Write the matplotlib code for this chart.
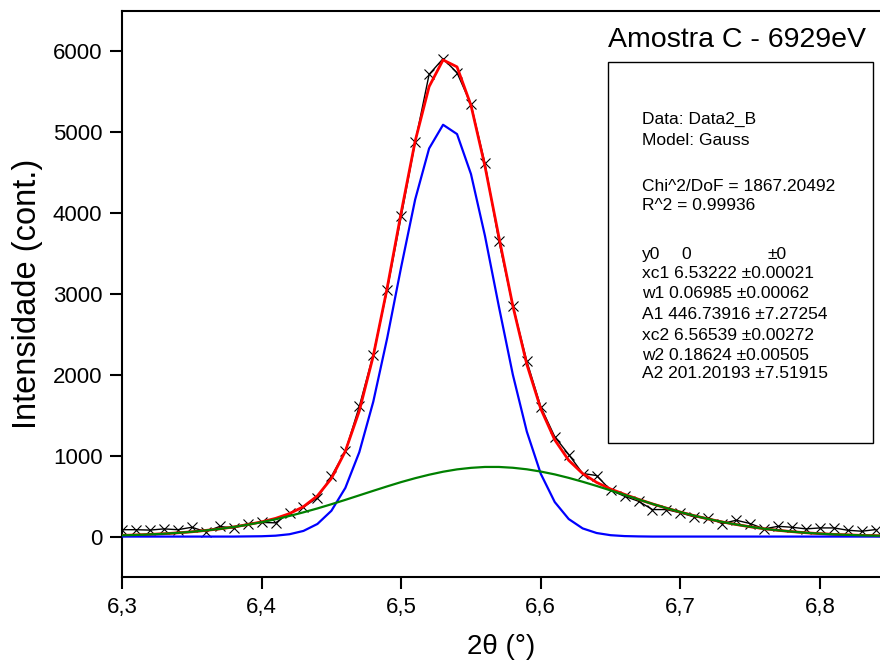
import numpy as np
import matplotlib
matplotlib.use('Agg')
import matplotlib.pyplot as plt
from matplotlib.patches import Rectangle
from matplotlib.ticker import FuncFormatter

plt.rcParams['font.family'] = ['Liberation Sans', 'DejaVu Sans']

# 2theta grid (deg), measured counts and the two Gauss components of the fit
two_theta = [6.30, 6.31, 6.32, 6.33, 6.34, 6.35, 6.36, 6.37, 6.38, 6.39,
             6.40, 6.41, 6.42, 6.43, 6.44, 6.45, 6.46, 6.47, 6.48, 6.49,
             6.50, 6.51, 6.52, 6.53, 6.54, 6.55, 6.56, 6.57, 6.58, 6.59,
             6.60, 6.61, 6.62, 6.63, 6.64, 6.65, 6.66, 6.67, 6.68, 6.69,
             6.70, 6.71, 6.72, 6.73, 6.74, 6.75, 6.76, 6.77, 6.78, 6.79,
             6.80, 6.81, 6.82, 6.83, 6.84, 6.85]

counts = [85, 85, 80, 95, 85, 115, 60, 125, 105, 160,
          175, 170, 290, 365, 480, 745, 1055, 1610, 2250, 3055,
          3960, 4875, 5716, 5910, 5737, 5345, 4615, 3655, 2855, 2169,
          1605, 1235, 1015, 780, 755, 573, 499, 437, 334, 334,
          293, 243, 231, 161, 202, 161, 95, 127, 115, 95,
          107, 107, 78, 66, 87]

fit_total = [15, 20, 27, 35, 46, 59, 76, 95, 119, 148,
             182, 225, 284, 370, 504, 719, 1056, 1554, 2234, 3078,
             4009, 4890, 5565, 5895, 5809, 5333, 4581, 3704, 2852, 2130,
             1580, 1196, 943, 779, 670, 588, 522, 461, 404, 352,
             303, 258, 217, 181, 149, 121, 97, 77, 61, 47,
             36, 27, 21, 15, 11, 8]

peak1 = [0, 0, 0, 0, 0, 0, 0, 0, 0, 2,
         4, 11, 29, 70, 156, 319, 602, 1044, 1668, 2457,
         3335, 4168, 4800, 5093, 4978, 4483, 3720, 2843, 2001, 1298,
         776, 427, 217, 101, 44, 17, 6, 2, 0, 0,
         0, 0, 0, 0, 0, 0, 0, 0, 0, 0,
         0, 0, 0, 0, 0, 0]

peak2 = [15, 20, 27, 35, 46, 59, 76, 95, 119, 146,
         178, 214, 255, 300, 348, 400, 454, 510, 566, 621,
         674, 722, 765, 802, 831, 850, 861, 861, 851, 832,
         804, 769, 726, 678, 626, 571, 516, 459, 404, 352,
         303, 258, 217, 181, 149, 121, 97, 77, 61, 47,
         36, 27, 21, 15, 11, 8]

x_ticks = [6.3, 6.4, 6.5, 6.6, 6.7, 6.8]
y_ticks = [0, 1000, 2000, 3000, 4000, 5000, 6000]

header_lines = ['Data: Data2_B', 'Model: Gauss',
                'Chi^2/DoF = 1867.20492', 'R^2 = 0.99936']
param_lines = ['xc1 6.53222 \u00b10.00021',
               'w1 0.06985 \u00b10.00062',
               'A1 446.73916 \u00b17.27254',
               'xc2 6.56539 \u00b10.00272',
               'w2 0.18624 \u00b10.00505',
               'A2 201.20193 \u00b17.51915']

W, H = 880, 666
fig = plt.figure(figsize=(W / 100, H / 100), dpi=100)
ax = fig.add_axes([122 / W, 89 / H, 758 / W, 566 / H])

ax.plot(two_theta[:len(counts)], counts, color='black', lw=1, marker='x',
        ms=7.5, mew=0.8, zorder=2)
ax.plot(two_theta, fit_total, color='#ff0000', lw=2, zorder=3)
ax.plot(two_theta, peak1, color='#0000ff', lw=1.6, zorder=4)
ax.plot(two_theta, peak2, color='#008000', lw=1.6, zorder=5)

ax.set_xlim(6.3, 6.843)
ax.set_ylim(-500, 6500)
ax.set_xticks(x_ticks)
ax.set_yticks(y_ticks)
ax.xaxis.set_major_formatter(FuncFormatter(lambda v, p: f'{v:.1f}'.replace('.', ',')))
ax.tick_params(direction='out', length=8.6, width=1.5, labelsize=16, pad=5.5)
for side in ['left', 'bottom', 'top']:
    ax.spines[side].set_linewidth(1.5)
ax.spines['right'].set_visible(False)

ax.set_xlabel('2\u03b8 (\u00b0)', fontsize=20, labelpad=12)
ax.set_ylabel('Intensidade (cont.)', fontsize=23.5, labelpad=7)

# title and fit report box (placed in pixel units of the figure)
def fx(px):
    return px / W

def fy(py):
    return 1 - py / H

fig.text(fx(608), fy(47), 'Amostra C - 6929eV', fontsize=20.5, va='baseline')
fig.patches.append(Rectangle((fx(608), fy(443)), 265 / W, 381 / H, fill=False,
                             lw=1, ec='black', transform=fig.transFigure))

header_rows = [124, 145, 191, 210]
param_rows = [278, 298, 319, 340, 360, 378]
for line, row in zip(header_lines, header_rows):
    fig.text(fx(642), fy(row), line, fontsize=12.5, va='baseline')
fig.text(fx(642), fy(259), 'y0', fontsize=12.5, va='baseline')
fig.text(fx(681), fy(259), '0', fontsize=12.5, va='baseline')
fig.text(fx(767), fy(259), '\u00b10', fontsize=12.5, va='baseline')
for line, row in zip(param_lines, param_rows):
    fig.text(fx(642), fy(row), line, fontsize=12.5, va='baseline')

fig.savefig('out.png', dpi=100)
